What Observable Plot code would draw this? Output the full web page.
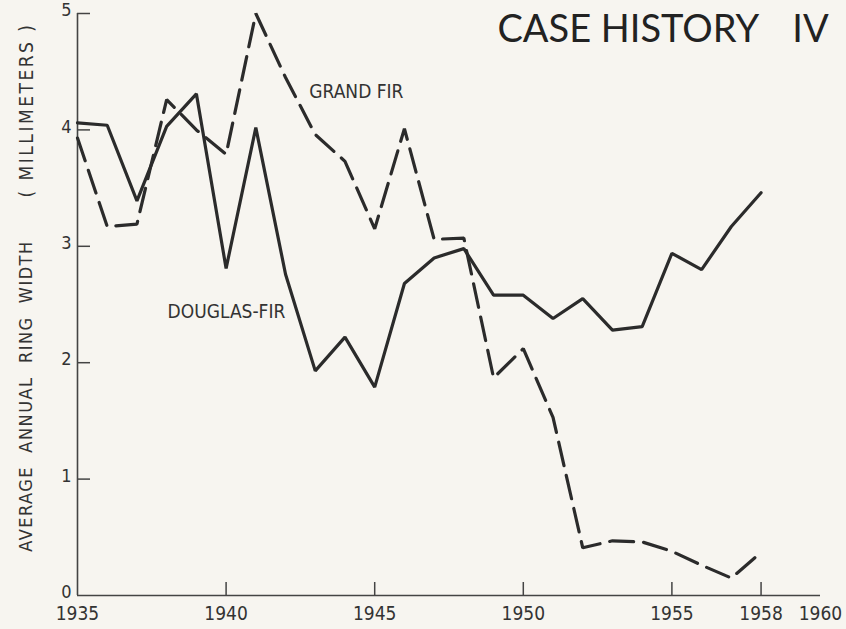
<!DOCTYPE html>
<html>
<head>
<meta charset="utf-8">
<script src="https://cdn.jsdelivr.net/npm/d3@7"></script>
<script src="https://cdn.jsdelivr.net/npm/@observablehq/plot@0.6"></script>
<style>
  html, body { margin: 0; padding: 0; background: #f7f5f0; }
  #chart svg { display: block; background: #f7f5f0; }
</style>
</head>
<body>
<div id="chart"></div>
<script>
const years = [1935,1936,1937,1938,1939,1940,1941,1942,1943,1944,1945,1946,1947,1948,1949,1950,1951,1952,1953,1954,1955,1956,1957,1958];
const douglasFir = [4.06,4.04,3.39,4.03,4.31,2.81,4.02,2.76,1.93,2.22,1.79,2.68,2.90,2.98,2.58,2.58,2.38,2.55,2.28,2.31,2.94,2.80,3.17,3.46];
const grandFir   = [3.93,3.17,3.19,4.26,4.00,3.79,5.00,4.45,3.96,3.73,3.15,4.01,3.06,3.07,1.87,2.12,1.53,0.41,0.47,0.46,0.38,0.26,0.15,0.37];
const xTickLabels = [1935,1940,1945,1950,1955,1958,1960];
const xTickMarks = [1940,1945,1950,1955,1958];
const yTickLabels = [0,1,2,3,4,5];
const yTickMarks = [1,2,3,4,5];
const seriesNames = ["DOUGLAS-FIR","GRAND FIR"];
const titleText = ["CASE HISTORY","IV"];
const yLabel = ["AVERAGE  ANNUAL  RING  WIDTH","( MILLIMETERS )"];

const dfData = years.map((y,i)=>({year:y, value:douglasFir[i]}));
const gfData = years.map((y,i)=>({year:y, value:grandFir[i]}));

const ink = "#2b2b2b";
const tickFont = "'Liberation Sans Narrow','DejaVu Sans Condensed',sans-serif";
const titleFont = "Lato, 'DejaVu Sans', sans-serif";

const W = 846, H = 629, mL = 77, mR = 26, mT = 13, mB = 34;
const xDom = [1935, 1960], yDom = [0, 5];
const tickPx = 13;
// tick length expressed in data units along each axis
const xTickLen = tickPx * (yDom[1] - yDom[0]) / (H - mT - mB);
const yTickLen = tickPx * (xDom[1] - xDom[0]) / (W - mL - mR);

const chart = Plot.plot({
  width: W,
  height: H,
  marginLeft: mL,
  marginRight: mR,
  marginTop: mT,
  marginBottom: mB,
  style: {background: "#f7f5f0", color: ink, fontFamily: tickFont, overflow: "visible"},
  x: {domain: xDom, label: null},
  y: {domain: yDom, label: null},
  marks: [
    // axis lines
    Plot.ruleY([0], {stroke: "#444", strokeWidth: 1.6}),
    Plot.ruleX([xDom[0]], {y1: yDom[0], y2: yDom[1], stroke: "#444", strokeWidth: 1.6}),
    // inward tick marks
    Plot.ruleX(xTickMarks, {x: d => d, y1: yDom[0], y2: yDom[0] + xTickLen, stroke: "#444", strokeWidth: 1.5}),
    Plot.ruleY(yTickMarks, {y: d => d, x1: xDom[0], x2: xDom[0] + yTickLen, stroke: "#444", strokeWidth: 1.5}),
    // tick labels
    Plot.axisX(xTickLabels, {tickSize: 0, tickPadding: 11, tickFormat: d => String(d), fontSize: 19, fill: "#333", label: null}),
    Plot.axisY(yTickLabels, {tickSize: 0, tickPadding: 6, dy: -3, tickFormat: d => String(d), fontSize: 18, fill: "#333", label: null}),
    // series
    Plot.line(dfData, {x: "year", y: "value", stroke: ink, strokeWidth: 3.2, strokeLinejoin: "miter"}),
    Plot.line(gfData, {x: "year", y: "value", stroke: ink, strokeWidth: 3.2, strokeDasharray: "24,10", strokeLinejoin: "miter"}),
    // series labels
    Plot.text([seriesNames[1]], {x: 1942.8, y: 4.33, text: d => d, textAnchor: "start", fontSize: 19, fill: "#333"}),
    Plot.text([seriesNames[0]], {x: 1938.03, y: 2.44, text: d => d, textAnchor: "start", fontSize: 19, fill: "#333"}),
    // title
    Plot.text([titleText[0]], {x: 1949.13, y: 4.86, text: d => d, textAnchor: "start", fontSize: 38, fontFamily: titleFont, fill: "#222"}),
    Plot.text([titleText[1]], {x: 1959.05, y: 4.86, text: d => d, textAnchor: "start", fontSize: 38, fontFamily: titleFont, fill: "#222"}),
  ]
});

// rotated y-axis label texts placed in the left margin
const svg = d3.select(chart);
const addRot = (txt, cy, size, ls) => {
  svg.append("text")
    .attr("transform", `translate(27,${cy}) rotate(-90)`)
    .attr("text-anchor", "middle")
    .attr("dominant-baseline", "middle")
    .attr("font-size", size)
    .attr("letter-spacing", ls)
    .attr("fill", "#333")
    .attr("font-family", tickFont)
    .style("white-space", "pre")
    .text(txt);
};
addRot(yLabel[0], 396, 18, "1.5px");
addRot(yLabel[1], 110, 19, "2.5px");

document.getElementById("chart").appendChild(chart);
</script>
</body>
</html>
